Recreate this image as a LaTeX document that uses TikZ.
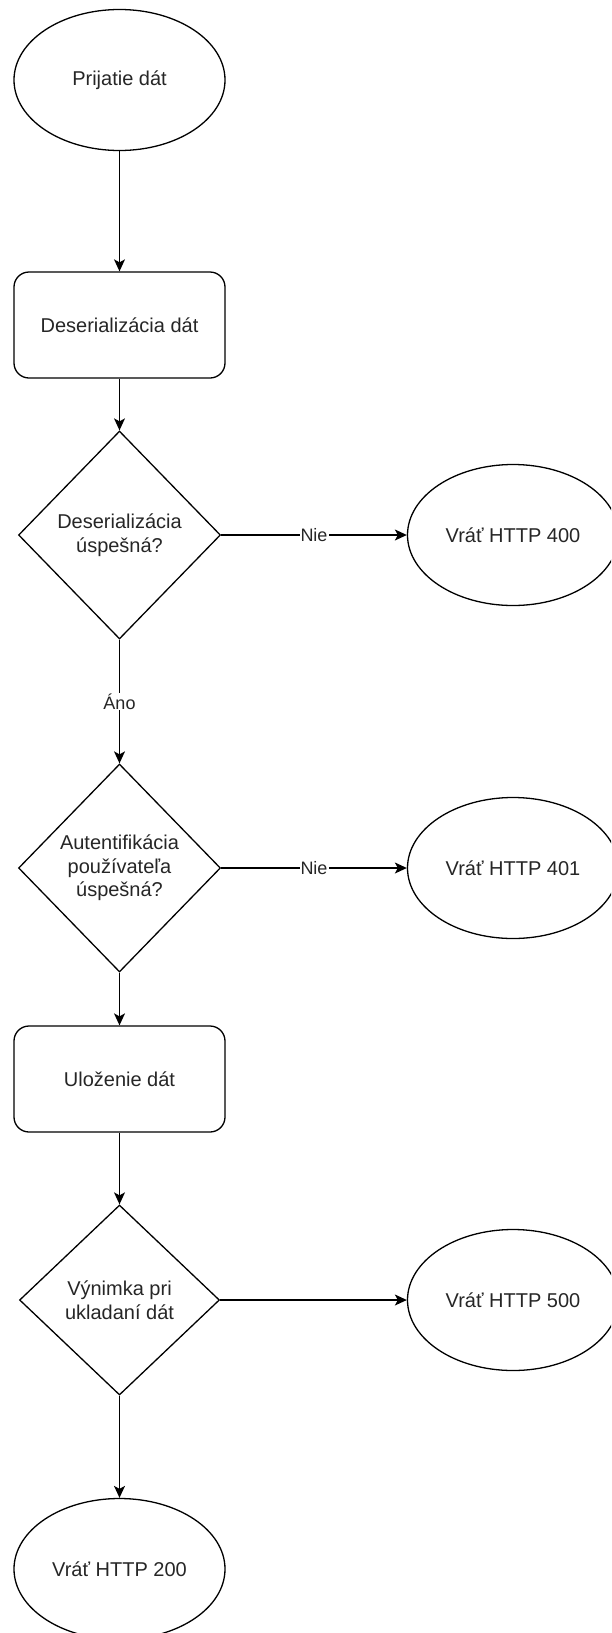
\documentclass[tikz,border=0pt]{standalone}
\usepackage{fontspec}
\setmainfont{Liberation Sans}
\usetikzlibrary{arrows.meta, positioning, shapes.geometric}

\begin{document}
\begin{tikzpicture}[x=1pt, y=-1pt,
  font=\fontsize{20}{23.5}\selectfont,
  every node/.style={text=black!85},
  terminal/.style={draw, ellipse, line width=1.3pt, inner sep=0pt,
    minimum width=211pt, minimum height=141pt},
  process/.style={draw, rectangle, rounded corners=15pt, line width=1.3pt,
    inner sep=0pt, minimum width=211pt, minimum height=106pt},
  decision/.style={draw, diamond, line width=1.3pt, inner sep=0pt,
    align=center, minimum width=202pt, minimum height=208pt},
  flow/.style={-{Stealth[length=12pt, width=11pt, inset=3pt]}, line width=1.3pt},
  edgelabel/.style={fill=white, inner sep=1pt, font=\fontsize{18}{20}\selectfont}]
  \useasboundingbox (0,0) rectangle (611,1633);
  \clip (0,0) rectangle (611,1633);
  % left column
  \node[terminal] (start)  at (119.5,80)   {Prijatie dát};
  \node[process]  (deser)  at (119.5,325)  {Deserializácia dát};
  \node[decision] (okdes)  at (119.5,535)  {Deserializácia\\úspešná?};
  \node[decision] (okauth) at (119.5,868)  {Autentifikácia\\používateľa\\úspešná?};
  \node[process]  (save)   at (119.5,1079) {Uloženie dát};
  \node[decision, minimum width=200pt, minimum height=190pt] (exc) at (119.5,1300)
    {Výnimka pri\\ukladaní dát};
  \node[terminal] (ret200) at (119.5,1569) {Vráť HTTP 200};
  % error returns
  \node[terminal] (ret400) at (513,535)  {Vráť HTTP 400};
  \node[terminal] (ret401) at (513,868)  {Vráť HTTP 401};
  \node[terminal] (ret500) at (513,1300) {Vráť HTTP 500};

  \draw[flow] (start) -- (deser);
  \draw[flow] (deser) -- (okdes);
  \draw[flow] (okdes) -- node[edgelabel] {Áno} (okauth);
  \draw[flow] (okauth) -- (save);
  \draw[flow] (save) -- (exc);
  \draw[flow] (exc) -- (ret200);
  \draw[flow] (okdes) -- node[edgelabel] {Nie} (ret400);
  \draw[flow] (okauth) -- node[edgelabel] {Nie} (ret401);
  \draw[flow] (exc) -- (ret500);
\end{tikzpicture}
\end{document}
